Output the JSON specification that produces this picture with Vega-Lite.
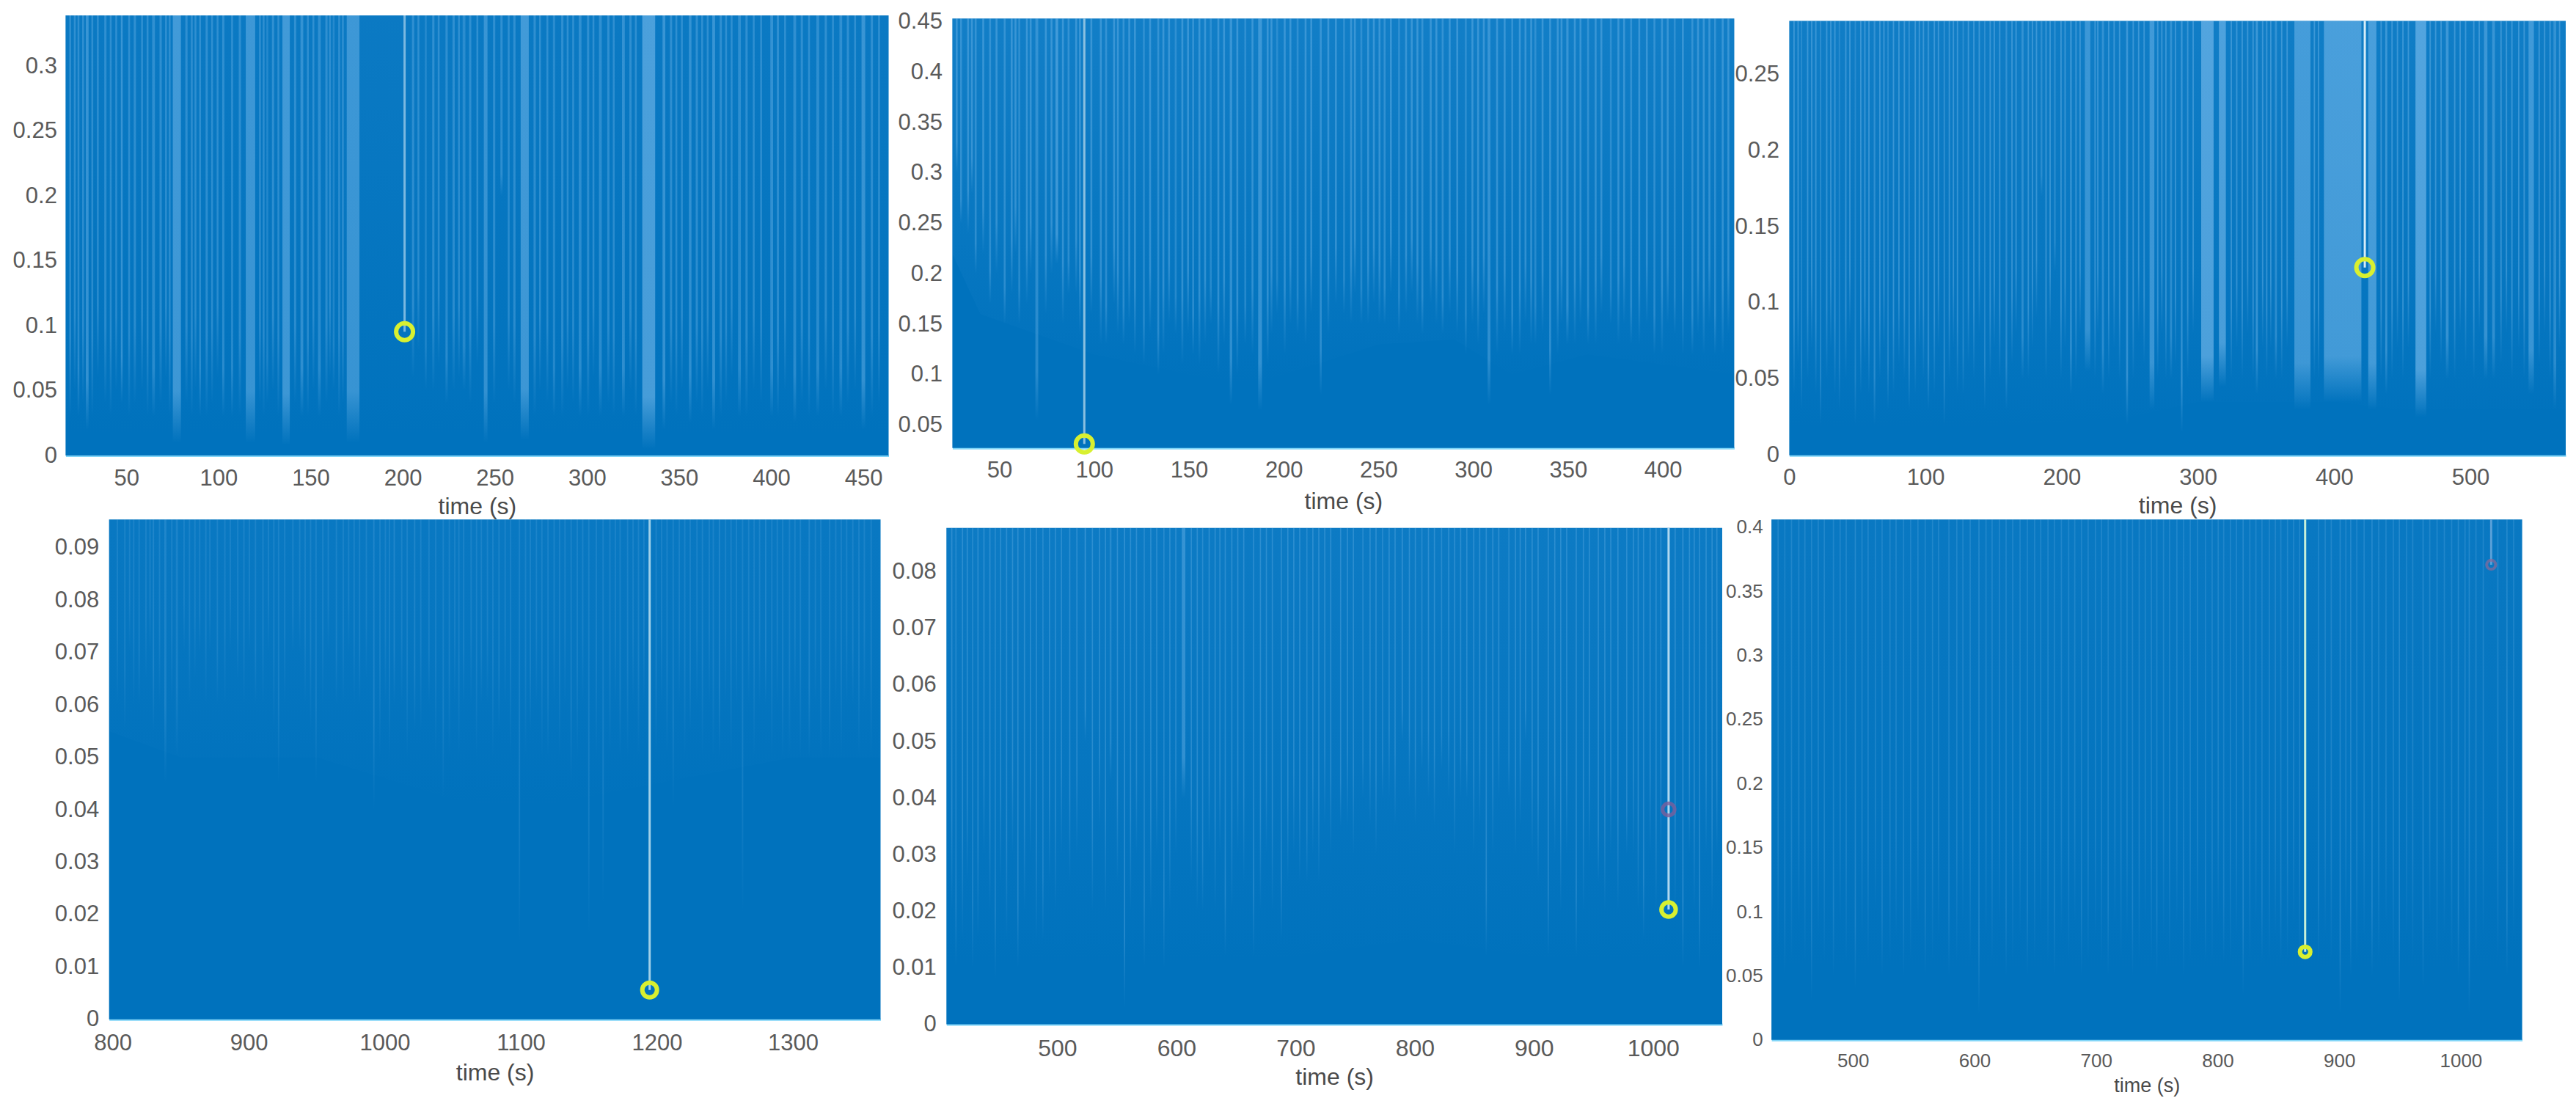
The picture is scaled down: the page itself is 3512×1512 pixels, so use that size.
{"$schema":"https://vega.github.io/schema/vega-lite/v6.json","width":3512,"height":1512,"padding":0,"autosize":{"type":"none"},"background":"white",
"config":{"view":{"stroke":null},"axis":{"grid":false,"ticks":false,"domain":false,"labelFont":"Liberation Sans","titleFont":"Liberation Sans","labelColor":"#5a5a5a","titleColor":"#4a4a4a","titleFontWeight":"normal","labelOverlap":false,"labelFlush":false,"format":"~r"}},
"datasets":{
"frames":[{"p":1,"t0":17,"t1":463.7,"amp":0},{"p":2,"t0":25.2,"t1":437.6,"amp":0.0273},{"p":3,"t0":0,"t1":570,"amp":0},{"p":4,"t0":797.4,"t1":1364.4,"amp":0},{"p":5,"t0":407,"t1":1058,"amp":0},{"p":6,"t0":433,"t1":1050.5,"amp":0}],
"haze":[
{"p":1,"t0":17,"amp":0.012},{"p":1,"t0":463.7,"amp":0.012},
{"p":2,"t0":25.2,"amp":0.22},{"p":2,"t0":40,"amp":0.16},{"p":2,"t0":70,"amp":0.14},{"p":2,"t0":100,"amp":0.12},{"p":2,"t0":150,"amp":0.1},{"p":2,"t0":180,"amp":0.09},{"p":2,"t0":200,"amp":0.1},{"p":2,"t0":250,"amp":0.13},{"p":2,"t0":290,"amp":0.135},{"p":2,"t0":320,"amp":0.1},{"p":2,"t0":360,"amp":0.12},{"p":2,"t0":400,"amp":0.11},{"p":2,"t0":437.6,"amp":0.1},
{"p":3,"t0":0,"amp":0.02},{"p":3,"t0":50,"amp":0.018},{"p":3,"t0":100,"amp":0.016},{"p":3,"t0":200,"amp":0.022},{"p":3,"t0":250,"amp":0.025},{"p":3,"t0":300,"amp":0.035},{"p":3,"t0":400,"amp":0.035},{"p":3,"t0":450,"amp":0.03},{"p":3,"t0":570,"amp":0.03},
{"p":4,"t0":797.4,"amp":0.055},{"p":4,"t0":850,"amp":0.05},{"p":4,"t0":950,"amp":0.05},{"p":4,"t0":1050,"amp":0.042},{"p":4,"t0":1100,"amp":0.04},{"p":4,"t0":1200,"amp":0.045},{"p":4,"t0":1300,"amp":0.05},{"p":4,"t0":1364.4,"amp":0.05},
{"p":5,"t0":407,"amp":0.01},{"p":5,"t0":550,"amp":0.01},{"p":5,"t0":700,"amp":0.012},{"p":5,"t0":800,"amp":0.015},{"p":5,"t0":900,"amp":0.012},{"p":5,"t0":1058,"amp":0.01},
{"p":6,"t0":433,"amp":0.06},{"p":6,"t0":1050.5,"amp":0.05}],
"markers":[{"p":1,"t0":201,"amp":0.0953},{"p":2,"t0":94.8,"amp":0.0313},{"p":3,"t0":422.5,"amp":0.1232},{"p":4,"t0":1194.7,"amp":0.0056},{"p":5,"t0":1013,"amp":0.0203},{"p":6,"t0":872,"amp":0.0687}],
"red":[{"p":5,"t0":1013,"amp":0.038},{"p":6,"t0":1025,"amp":0.3707}],
"s1":[{"t0":23.5,"t1":24.5,"amp":0.03,"s":0.4},{"t0":28,"t1":29.5,"amp":0.02,"s":0.5},{"t0":47,"t1":48,"amp":0.04,"s":0.5},{"t0":64,"t1":65.5,"amp":0.03,"s":0.4},{"t0":75.2,"t1":79.6,"amp":0.01,"s":0.6},{"t0":89.5,"t1":90.5,"amp":0.03,"s":0.4},{"t0":102,"t1":103.2,"amp":0.03,"s":0.4},{"t0":106.8,"t1":108,"amp":0.03,"s":0.35},{"t0":114.8,"t1":119.9,"amp":0.01,"s":0.55},{"t0":126,"t1":127,"amp":0.04,"s":0.3},{"t0":134.7,"t1":138.7,"amp":0.008,"s":0.6},{"t0":144.5,"t1":146,"amp":0.03,"s":0.45},{"t0":154,"t1":155.5,"amp":0.03,"s":0.4},{"t0":162,"t1":163,"amp":0.05,"s":0.3},{"t0":169.6,"t1":176.5,"amp":0.01,"s":0.55},{"t0":212,"t1":213,"amp":0.05,"s":0.3},{"t0":223.2,"t1":224.4,"amp":0.04,"s":0.4},{"t0":232.5,"t1":234,"amp":0.05,"s":0.35},{"t0":244,"t1":246,"amp":0.01,"s":0.5},{"t0":253,"t1":254.2,"amp":0.2,"s":0.4},{"t0":264,"t1":268.4,"amp":0.012,"s":0.6},{"t0":281.5,"t1":282.7,"amp":0.03,"s":0.35},{"t0":295.5,"t1":297,"amp":0.03,"s":0.4},{"t0":306.5,"t1":308,"amp":0.03,"s":0.4},{"t0":319,"t1":320.5,"amp":0.03,"s":0.45},{"t0":330,"t1":337,"amp":0.005,"s":0.7},{"t0":341,"t1":342.5,"amp":0.02,"s":0.5},{"t0":355.3,"t1":356.7,"amp":0.025,"s":0.45},{"t0":368,"t1":369.5,"amp":0.02,"s":0.5},{"t0":382,"t1":383.5,"amp":0.03,"s":0.4},{"t0":399.5,"t1":401,"amp":0.03,"s":0.45},{"t0":412,"t1":413.5,"amp":0.025,"s":0.4},{"t0":424.5,"t1":426,"amp":0.03,"s":0.4},{"t0":437,"t1":438.5,"amp":0.03,"s":0.4},{"t0":449,"t1":451,"amp":0.02,"s":0.5}],
"s2":[{"t0":29.3,"t1":30.3,"amp":0.25,"s":0.4},{"t0":37,"t1":38,"amp":0.2,"s":0.4},{"t0":44.6,"t1":45.6,"amp":0.17,"s":0.4},{"t0":52.3,"t1":53.3,"amp":0.15,"s":0.4},{"t0":60,"t1":61,"amp":0.15,"s":0.35},{"t0":69,"t1":70.5,"amp":0.055,"s":0.4},{"t0":79.6,"t1":81,"amp":0.21,"s":0.55},{"t0":86,"t1":87,"amp":0.18,"s":0.4},{"t0":105.8,"t1":106.8,"amp":0.13,"s":0.4},{"t0":115,"t1":116,"amp":0.13,"s":0.4},{"t0":125.7,"t1":126.7,"amp":0.11,"s":0.35},{"t0":133.3,"t1":134.3,"amp":0.1,"s":0.4},{"t0":142.5,"t1":143.5,"amp":0.14,"s":0.35},{"t0":151.7,"t1":152.7,"amp":0.12,"s":0.4},{"t0":161,"t1":162,"amp":0.15,"s":0.35},{"t0":171.5,"t1":172.8,"amp":0.07,"s":0.45},{"t0":179.2,"t1":180.2,"amp":0.13,"s":0.35},{"t0":186.5,"t1":188.5,"amp":0.065,"s":0.5},{"t0":196,"t1":197,"amp":0.16,"s":0.3},{"t0":206.8,"t1":207.8,"amp":0.14,"s":0.35},{"t0":219,"t1":220,"amp":0.08,"s":0.45},{"t0":231.3,"t1":232.3,"amp":0.16,"s":0.35},{"t0":240.4,"t1":241.4,"amp":0.15,"s":0.35},{"t0":252.7,"t1":253.7,"amp":0.15,"s":0.4},{"t0":260.3,"t1":261.3,"amp":0.14,"s":0.35},{"t0":272.6,"t1":273.6,"amp":0.14,"s":0.4},{"t0":283.3,"t1":284.3,"amp":0.14,"s":0.4},{"t0":295.5,"t1":296.5,"amp":0.12,"s":0.35},{"t0":307.5,"t1":309,"amp":0.07,"s":0.45},{"t0":320,"t1":321,"amp":0.12,"s":0.4},{"t0":332.2,"t1":333.2,"amp":0.13,"s":0.35},{"t0":340,"t1":341,"amp":0.08,"s":0.45},{"t0":349,"t1":350.2,"amp":0.13,"s":0.45},{"t0":360,"t1":361,"amp":0.13,"s":0.4},{"t0":372,"t1":373,"amp":0.15,"s":0.35},{"t0":382.7,"t1":383.7,"amp":0.13,"s":0.4},{"t0":395,"t1":396,"amp":0.12,"s":0.4},{"t0":405.7,"t1":406.7,"amp":0.14,"s":0.35},{"t0":415,"t1":416,"amp":0.12,"s":0.4},{"t0":427,"t1":428,"amp":0.12,"s":0.4}],
"s3":[{"t0":8.5,"t1":9.5,"amp":0.03,"s":0.3},{"t0":22.5,"t1":23.5,"amp":0.02,"s":0.35},{"t0":36.3,"t1":37.3,"amp":0.03,"s":0.3},{"t0":48,"t1":49,"amp":0.02,"s":0.3},{"t0":62,"t1":63.2,"amp":0.02,"s":0.4},{"t0":72,"t1":73,"amp":0.03,"s":0.35},{"t0":87.5,"t1":88.5,"amp":0.03,"s":0.4},{"t0":101.5,"t1":102.7,"amp":0.03,"s":0.4},{"t0":113.3,"t1":114.3,"amp":0.02,"s":0.4},{"t0":127.2,"t1":128.2,"amp":0.04,"s":0.35},{"t0":143,"t1":144,"amp":0.03,"s":0.35},{"t0":158.8,"t1":160,"amp":0.03,"s":0.4},{"t0":170.5,"t1":172,"amp":0.05,"s":0.4},{"t0":184.5,"t1":185.8,"amp":0.17,"s":0.35},{"t0":194.5,"t1":195.5,"amp":0.12,"s":0.4},{"t0":206,"t1":207.5,"amp":0.04,"s":0.4},{"t0":217,"t1":221,"amp":0.055,"s":0.5},{"t0":229.5,"t1":231,"amp":0.04,"s":0.4},{"t0":247.3,"t1":248.7,"amp":0.02,"s":0.5},{"t0":264.5,"t1":268,"amp":0.03,"s":0.55},{"t0":279.5,"t1":281,"amp":0.05,"s":0.4},{"t0":287.5,"t1":288.7,"amp":0.015,"s":0.5},{"t0":302.4,"t1":311.5,"amp":0.035,"s":0.75},{"t0":315.4,"t1":320.5,"amp":0.045,"s":0.7},{"t0":342.5,"t1":344,"amp":0.04,"s":0.5},{"t0":356.5,"t1":358,"amp":0.05,"s":0.4},{"t0":370.8,"t1":382.6,"amp":0.03,"s":0.6},{"t0":392.5,"t1":420,"amp":0.035,"s":0.65},{"t0":425,"t1":431,"amp":0.03,"s":0.65},{"t0":437.5,"t1":439,"amp":0.04,"s":0.5},{"t0":459.7,"t1":467.6,"amp":0.025,"s":0.75},{"t0":482,"t1":484,"amp":0.05,"s":0.5},{"t0":510,"t1":512.5,"amp":0.05,"s":0.5},{"t0":516,"t1":518,"amp":0.05,"s":0.45},{"t0":542.7,"t1":546.6,"amp":0.04,"s":0.55},{"t0":561,"t1":563,"amp":0.03,"s":0.4}],
"s4":[{"t0":808.5,"t1":809.5,"amp":0.055,"s":0.2},{"t0":819,"t1":820,"amp":0.06,"s":0.2},{"t0":829.5,"t1":830.5,"amp":0.055,"s":0.25},{"t0":838,"t1":839.5,"amp":0.045,"s":0.25},{"t0":846.5,"t1":848,"amp":0.05,"s":0.2},{"t0":863.5,"t1":864.5,"amp":0.07,"s":0.2},{"t0":876.5,"t1":877.5,"amp":0.06,"s":0.2},{"t0":891.5,"t1":892.5,"amp":0.065,"s":0.2},{"t0":904.5,"t1":905.5,"amp":0.06,"s":0.2},{"t0":921.5,"t1":922.5,"amp":0.045,"s":0.2},{"t0":932,"t1":933,"amp":0.07,"s":0.2},{"t0":949,"t1":950,"amp":0.045,"s":0.2},{"t0":964,"t1":965,"amp":0.06,"s":0.2},{"t0":981,"t1":982,"amp":0.06,"s":0.2},{"t0":991.5,"t1":992.5,"amp":0.04,"s":0.25},{"t0":1006.5,"t1":1007.5,"amp":0.06,"s":0.25},{"t0":1021.5,"t1":1022.5,"amp":0.055,"s":0.25},{"t0":1032,"t1":1033,"amp":0.06,"s":0.2},{"t0":1042.5,"t1":1043.5,"amp":0.042,"s":0.2},{"t0":1057.5,"t1":1058.5,"amp":0.06,"s":0.2},{"t0":1070.5,"t1":1071.5,"amp":0.06,"s":0.2},{"t0":1083.5,"t1":1084.5,"amp":0.055,"s":0.2},{"t0":1098.5,"t1":1099.5,"amp":0.014,"s":0.2},{"t0":1106.5,"t1":1107.5,"amp":0.055,"s":0.2},{"t0":1119.5,"t1":1120.5,"amp":0.05,"s":0.2},{"t0":1136.5,"t1":1137.5,"amp":0.045,"s":0.2},{"t0":1149.5,"t1":1150.5,"amp":0.016,"s":0.2},{"t0":1160,"t1":1161,"amp":0.022,"s":0.2},{"t0":1172.5,"t1":1173.5,"amp":0.05,"s":0.2},{"t0":1211.5,"t1":1212.5,"amp":0.04,"s":0.2},{"t0":1224,"t1":1225,"amp":0.055,"s":0.2},{"t0":1245.5,"t1":1246.5,"amp":0.05,"s":0.25},{"t0":1262.5,"t1":1263.5,"amp":0.02,"s":0.2},{"t0":1279.5,"t1":1280.5,"amp":0.06,"s":0.25},{"t0":1292,"t1":1293,"amp":0.05,"s":0.2},{"t0":1311.5,"t1":1312.5,"amp":0.05,"s":0.25},{"t0":1326.5,"t1":1327.5,"amp":0.05,"s":0.2},{"t0":1343.5,"t1":1344.5,"amp":0.06,"s":0.2}],
"s5":[{"t0":414.5,"t1":415.5,"amp":0.01,"s":0.3},{"t0":428.5,"t1":429.5,"amp":0.01,"s":0.3},{"t0":447.5,"t1":448.5,"amp":0.008,"s":0.3},{"t0":466.5,"t1":467.5,"amp":0.01,"s":0.35},{"t0":487.5,"t1":488.5,"amp":0.015,"s":0.3},{"t0":523,"t1":524,"amp":0.05,"s":0.45},{"t0":544,"t1":545.5,"amp":0.043,"s":0.3},{"t0":556,"t1":557,"amp":0.003,"s":0.4},{"t0":572.5,"t1":573.5,"amp":0.01,"s":0.3},{"t0":589,"t1":590,"amp":0.01,"s":0.3},{"t0":604.5,"t1":607.5,"amp":0.04,"s":0.45},{"t0":621.5,"t1":622.5,"amp":0.02,"s":0.3},{"t0":640.5,"t1":641.5,"amp":0.012,"s":0.35},{"t0":664.3,"t1":665.3,"amp":0.012,"s":0.35},{"t0":687.5,"t1":688.5,"amp":0.015,"s":0.35},{"t0":709,"t1":710,"amp":0.025,"s":0.3},{"t0":737.3,"t1":738.3,"amp":0.035,"s":0.35},{"t0":756,"t1":757,"amp":0.04,"s":0.3},{"t0":772.5,"t1":773.5,"amp":0.04,"s":0.3},{"t0":789,"t1":790,"amp":0.05,"s":0.4},{"t0":805.5,"t1":806.5,"amp":0.045,"s":0.3},{"t0":822,"t1":823,"amp":0.045,"s":0.3},{"t0":843.2,"t1":844.2,"amp":0.04,"s":0.35},{"t0":859.5,"t1":860.5,"amp":0.012,"s":0.35},{"t0":878.5,"t1":879.5,"amp":0.04,"s":0.3},{"t0":892.5,"t1":893.5,"amp":0.05,"s":0.4},{"t0":911.5,"t1":912.5,"amp":0.012,"s":0.35},{"t0":935,"t1":936,"amp":0.012,"s":0.35},{"t0":953.5,"t1":954.5,"amp":0.025,"s":0.35},{"t0":977.4,"t1":978.4,"amp":0.03,"s":0.35},{"t0":991.5,"t1":992.5,"amp":0.015,"s":0.35},{"t0":1024.5,"t1":1025.5,"amp":0.01,"s":0.4},{"t0":1038.5,"t1":1039.5,"amp":0.01,"s":0.35}],
"s6":[{"t0":443.5,"t1":444.5,"amp":0.05,"s":0.2},{"t0":465.5,"t1":466.5,"amp":0.03,"s":0.25},{"t0":483.5,"t1":484.5,"amp":0.05,"s":0.25},{"t0":501.5,"t1":502.5,"amp":0.04,"s":0.3},{"t0":523.5,"t1":524.5,"amp":0.05,"s":0.25},{"t0":541.2,"t1":542.2,"amp":0.05,"s":0.25},{"t0":559,"t1":560,"amp":0.05,"s":0.25},{"t0":578.5,"t1":579.5,"amp":0.05,"s":0.25},{"t0":603.2,"t1":604.2,"amp":0.02,"s":0.3},{"t0":625.5,"t1":626.5,"amp":0.05,"s":0.25},{"t0":643,"t1":644,"amp":0.05,"s":0.25},{"t0":665.3,"t1":666.3,"amp":0.05,"s":0.25},{"t0":687.5,"t1":688.5,"amp":0.05,"s":0.25},{"t0":709.5,"t1":710.5,"amp":0.05,"s":0.25},{"t0":729.5,"t1":730.5,"amp":0.05,"s":0.25},{"t0":749.5,"t1":750.5,"amp":0.05,"s":0.25},{"t0":771.5,"t1":772.5,"amp":0.05,"s":0.25},{"t0":789.5,"t1":790.5,"amp":0.06,"s":0.25},{"t0":804.5,"t1":805.5,"amp":0.06,"s":0.25},{"t0":820.5,"t1":821.5,"amp":0.035,"s":0.3},{"t0":836,"t1":837,"amp":0.06,"s":0.25},{"t0":851.5,"t1":852.5,"amp":0.06,"s":0.25},{"t0":882.5,"t1":883.5,"amp":0.06,"s":0.25},{"t0":900.3,"t1":901.3,"amp":0.02,"s":0.3},{"t0":909,"t1":910,"amp":0.05,"s":0.3},{"t0":926.5,"t1":927.5,"amp":0.05,"s":0.3},{"t0":949,"t1":950,"amp":0.03,"s":0.3},{"t0":968.5,"t1":969.5,"amp":0.04,"s":0.3},{"t0":997.5,"t1":998.5,"amp":0.05,"s":0.3},{"t0":1006.5,"t1":1007.5,"amp":0.02,"s":0.3},{"t0":1037.5,"t1":1038.5,"amp":0.05,"s":0.3}],
"f1":[{"t0":19,"t1":20,"amp":0.03},{"t0":21.5,"t1":22.5,"amp":0.05},{"t0":26,"t1":27,"amp":0.04},{"t0":31,"t1":32,"amp":0.03},{"t0":34,"t1":35,"amp":0.06},{"t0":38,"t1":39.2,"amp":0.04},{"t0":41,"t1":42,"amp":0.03},{"t0":44,"t1":45,"amp":0.05},{"t0":51,"t1":52,"amp":0.03},{"t0":54,"t1":55.2,"amp":0.04},{"t0":58,"t1":59,"amp":0.05},{"t0":61,"t1":62,"amp":0.03},{"t0":68,"t1":69.2,"amp":0.04},{"t0":71,"t1":72,"amp":0.06},{"t0":73,"t1":74,"amp":0.03},{"t0":82,"t1":83.2,"amp":0.04},{"t0":85,"t1":86,"amp":0.03},{"t0":87,"t1":88,"amp":0.05},{"t0":93,"t1":94.2,"amp":0.03},{"t0":96,"t1":97,"amp":0.04},{"t0":99,"t1":100,"amp":0.06},{"t0":111,"t1":112.2,"amp":0.03},{"t0":122,"t1":123,"amp":0.04},{"t0":124,"t1":125,"amp":0.03},{"t0":129,"t1":130.2,"amp":0.05},{"t0":132,"t1":133,"amp":0.03},{"t0":141,"t1":142.2,"amp":0.04},{"t0":148,"t1":149,"amp":0.03},{"t0":151,"t1":152,"amp":0.05},{"t0":158,"t1":159.2,"amp":0.04},{"t0":160,"t1":161,"amp":0.06},{"t0":165,"t1":166,"amp":0.03},{"t0":167,"t1":168,"amp":0.04},{"t0":205,"t1":206.2,"amp":0.06},{"t0":208,"t1":209,"amp":0.08},{"t0":216,"t1":217.2,"amp":0.05},{"t0":219,"t1":220,"amp":0.07},{"t0":227,"t1":228.2,"amp":0.05},{"t0":230,"t1":231,"amp":0.06},{"t0":236,"t1":237.2,"amp":0.04},{"t0":240,"t1":241,"amp":0.07},{"t0":249,"t1":250.2,"amp":0.04},{"t0":257,"t1":258,"amp":0.05},{"t0":260,"t1":261.2,"amp":0.04},{"t0":271,"t1":272.2,"amp":0.03},{"t0":274,"t1":275,"amp":0.05},{"t0":278,"t1":279,"amp":0.04},{"t0":286,"t1":287.2,"amp":0.03},{"t0":289,"t1":290,"amp":0.05},{"t0":292,"t1":293,"amp":0.04},{"t0":300,"t1":301.2,"amp":0.03},{"t0":303,"t1":304,"amp":0.06},{"t0":311,"t1":312.2,"amp":0.04},{"t0":314,"t1":315,"amp":0.03},{"t0":323,"t1":324.2,"amp":0.05},{"t0":326,"t1":327,"amp":0.03},{"t0":345,"t1":346.2,"amp":0.04},{"t0":348,"t1":349,"amp":0.03},{"t0":351,"t1":352,"amp":0.05},{"t0":359,"t1":360.2,"amp":0.04},{"t0":362,"t1":363,"amp":0.03},{"t0":365,"t1":366,"amp":0.05},{"t0":372,"t1":373.2,"amp":0.03},{"t0":375,"t1":376,"amp":0.04},{"t0":378,"t1":379,"amp":0.06},{"t0":386,"t1":387.2,"amp":0.03},{"t0":390,"t1":391,"amp":0.05},{"t0":394,"t1":395,"amp":0.04},{"t0":403,"t1":404.2,"amp":0.03},{"t0":407,"t1":408,"amp":0.05},{"t0":416,"t1":417.2,"amp":0.04},{"t0":420,"t1":421,"amp":0.03},{"t0":429,"t1":430.2,"amp":0.05},{"t0":433,"t1":434,"amp":0.03},{"t0":441,"t1":442.2,"amp":0.04},{"t0":445,"t1":446,"amp":0.05},{"t0":454,"t1":455.2,"amp":0.03},{"t0":458,"t1":459,"amp":0.04}],
"f2":[{"t0":27,"t1":28,"amp":0.3},{"t0":33,"t1":34,"amp":0.24},{"t0":35,"t1":36,"amp":0.28},{"t0":41,"t1":42,"amp":0.22},{"t0":48,"t1":49,"amp":0.2},{"t0":56,"t1":57,"amp":0.18},{"t0":58,"t1":59,"amp":0.22},{"t0":64,"t1":65,"amp":0.17},{"t0":66,"t1":67,"amp":0.2},{"t0":74,"t1":75,"amp":0.16},{"t0":77,"t1":78,"amp":0.2},{"t0":83,"t1":84,"amp":0.15},{"t0":90,"t1":91,"amp":0.18},{"t0":92,"t1":93,"amp":0.14},{"t0":98,"t1":99,"amp":0.16},{"t0":103,"t1":104,"amp":0.13},{"t0":110,"t1":111,"amp":0.17},{"t0":112,"t1":113,"amp":0.14},{"t0":118,"t1":119,"amp":0.15},{"t0":121,"t1":122,"amp":0.12},{"t0":129,"t1":130,"amp":0.14},{"t0":136,"t1":137,"amp":0.12},{"t0":139,"t1":140,"amp":0.15},{"t0":146,"t1":147,"amp":0.11},{"t0":149,"t1":150,"amp":0.14},{"t0":155,"t1":156,"amp":0.11},{"t0":158,"t1":159,"amp":0.13},{"t0":165,"t1":166,"amp":0.1},{"t0":168,"t1":169,"amp":0.13},{"t0":175,"t1":176,"amp":0.1},{"t0":183,"t1":184,"amp":0.12},{"t0":191,"t1":192,"amp":0.11},{"t0":193,"t1":194,"amp":0.14},{"t0":200,"t1":201,"amp":0.12},{"t0":203,"t1":204,"amp":0.15},{"t0":211,"t1":212,"amp":0.13},{"t0":214,"t1":215,"amp":0.16},{"t0":223,"t1":224,"amp":0.14},{"t0":227,"t1":228,"amp":0.17},{"t0":235,"t1":236,"amp":0.15},{"t0":237,"t1":238,"amp":0.18},{"t0":244,"t1":245,"amp":0.15},{"t0":247,"t1":248,"amp":0.17},{"t0":250,"t1":251,"amp":0.15},{"t0":256,"t1":257,"amp":0.18},{"t0":264,"t1":265,"amp":0.16},{"t0":267,"t1":268,"amp":0.18},{"t0":270,"t1":271,"amp":0.15},{"t0":277,"t1":278,"amp":0.17},{"t0":280,"t1":281,"amp":0.15},{"t0":287,"t1":288,"amp":0.16},{"t0":291,"t1":292,"amp":0.14},{"t0":299,"t1":300,"amp":0.15},{"t0":302,"t1":303,"amp":0.13},{"t0":305,"t1":306,"amp":0.16},{"t0":312,"t1":313,"amp":0.12},{"t0":316,"t1":317,"amp":0.14},{"t0":324,"t1":325,"amp":0.12},{"t0":327,"t1":328,"amp":0.15},{"t0":330,"t1":331,"amp":0.13},{"t0":336,"t1":337,"amp":0.14},{"t0":344,"t1":345,"amp":0.12},{"t0":346,"t1":347,"amp":0.15},{"t0":353,"t1":354,"amp":0.13},{"t0":356,"t1":357,"amp":0.15},{"t0":364,"t1":365,"amp":0.13},{"t0":367,"t1":368,"amp":0.16},{"t0":376,"t1":377,"amp":0.13},{"t0":379,"t1":380,"amp":0.15},{"t0":387,"t1":388,"amp":0.13},{"t0":391,"t1":392,"amp":0.15},{"t0":399,"t1":400,"amp":0.12},{"t0":402,"t1":403,"amp":0.15},{"t0":410,"t1":411,"amp":0.12},{"t0":418,"t1":419,"amp":0.14},{"t0":421,"t1":422,"amp":0.12},{"t0":424,"t1":425,"amp":0.15},{"t0":431,"t1":432,"amp":0.12},{"t0":434,"t1":435,"amp":0.14}],
"f3":[{"t0":3,"t1":4,"amp":0.04},{"t0":6,"t1":7,"amp":0.06},{"t0":13,"t1":14,"amp":0.05},{"t0":16,"t1":17,"amp":0.07},{"t0":19,"t1":20,"amp":0.04},{"t0":27,"t1":28,"amp":0.05},{"t0":30,"t1":31,"amp":0.07},{"t0":33,"t1":34,"amp":0.04},{"t0":41,"t1":42,"amp":0.05},{"t0":44,"t1":45,"amp":0.08},{"t0":52,"t1":53,"amp":0.04},{"t0":55,"t1":56,"amp":0.06},{"t0":58,"t1":59,"amp":0.04},{"t0":66,"t1":67,"amp":0.05},{"t0":69,"t1":70,"amp":0.07},{"t0":76,"t1":77,"amp":0.04},{"t0":80,"t1":81,"amp":0.06},{"t0":84,"t1":85,"amp":0.05},{"t0":92,"t1":93,"amp":0.04},{"t0":95,"t1":96,"amp":0.07},{"t0":98,"t1":99,"amp":0.05},{"t0":106,"t1":107,"amp":0.04},{"t0":109,"t1":110,"amp":0.07},{"t0":117,"t1":118,"amp":0.05},{"t0":120,"t1":121,"amp":0.07},{"t0":123,"t1":124,"amp":0.04},{"t0":131,"t1":132,"amp":0.06},{"t0":135,"t1":136,"amp":0.05},{"t0":139,"t1":140,"amp":0.08},{"t0":147,"t1":148,"amp":0.05},{"t0":150,"t1":151,"amp":0.07},{"t0":154,"t1":155,"amp":0.05},{"t0":163,"t1":164,"amp":0.06},{"t0":166,"t1":167,"amp":0.08},{"t0":175,"t1":176,"amp":0.05},{"t0":178,"t1":179,"amp":0.07},{"t0":181,"t1":182,"amp":0.09},{"t0":188,"t1":189,"amp":0.05},{"t0":191,"t1":192,"amp":0.08},{"t0":199,"t1":200,"amp":0.05},{"t0":202,"t1":203,"amp":0.07},{"t0":210,"t1":211,"amp":0.05},{"t0":213,"t1":214,"amp":0.08},{"t0":224,"t1":225,"amp":0.05},{"t0":226,"t1":227,"amp":0.08},{"t0":234,"t1":235,"amp":0.05},{"t0":238,"t1":239,"amp":0.07},{"t0":242,"t1":243,"amp":0.05},{"t0":252,"t1":253,"amp":0.05},{"t0":256,"t1":257,"amp":0.08},{"t0":260,"t1":261,"amp":0.06},{"t0":270,"t1":271,"amp":0.05},{"t0":273,"t1":274,"amp":0.08},{"t0":276,"t1":277,"amp":0.05},{"t0":283,"t1":284,"amp":0.06},{"t0":292,"t1":293,"amp":0.05},{"t0":296,"t1":297,"amp":0.08},{"t0":324,"t1":325,"amp":0.05},{"t0":328,"t1":329,"amp":0.07},{"t0":332,"t1":333,"amp":0.05},{"t0":336,"t1":337,"amp":0.08},{"t0":340,"t1":341,"amp":0.05},{"t0":347,"t1":348,"amp":0.07},{"t0":350,"t1":351,"amp":0.05},{"t0":353,"t1":354,"amp":0.07},{"t0":361,"t1":362,"amp":0.05},{"t0":365,"t1":366,"amp":0.07},{"t0":385,"t1":386,"amp":0.05},{"t0":388,"t1":389,"amp":0.05},{"t0":434,"t1":435,"amp":0.05},{"t0":442,"t1":443,"amp":0.05},{"t0":446,"t1":447,"amp":0.07},{"t0":450,"t1":451,"amp":0.05},{"t0":454,"t1":455,"amp":0.07},{"t0":470,"t1":471,"amp":0.05},{"t0":474,"t1":475,"amp":0.08},{"t0":478,"t1":479,"amp":0.06},{"t0":488,"t1":489,"amp":0.05},{"t0":492,"t1":493,"amp":0.08},{"t0":496,"t1":497,"amp":0.06},{"t0":502,"t1":503,"amp":0.05},{"t0":506,"t1":507,"amp":0.08},{"t0":522,"t1":523,"amp":0.06},{"t0":526,"t1":527,"amp":0.08},{"t0":530,"t1":531,"amp":0.05},{"t0":535,"t1":536,"amp":0.07},{"t0":539,"t1":540,"amp":0.05},{"t0":550,"t1":551,"amp":0.06},{"t0":554,"t1":555,"amp":0.08},{"t0":558,"t1":559,"amp":0.05},{"t0":565,"t1":566,"amp":0.07}],
"f4":[{"t0":803,"t1":804,"amp":0.06},{"t0":812,"t1":813,"amp":0.07},{"t0":815,"t1":816,"amp":0.06},{"t0":824,"t1":825,"amp":0.065},{"t0":827,"t1":828,"amp":0.07},{"t0":834,"t1":835,"amp":0.06},{"t0":843,"t1":844,"amp":0.06},{"t0":852,"t1":853,"amp":0.07},{"t0":856,"t1":857,"amp":0.06},{"t0":860,"t1":861,"amp":0.065},{"t0":868,"t1":869,"amp":0.06},{"t0":871,"t1":872,"amp":0.07},{"t0":882,"t1":883,"amp":0.06},{"t0":886,"t1":887,"amp":0.07},{"t0":896,"t1":897,"amp":0.06},{"t0":900,"t1":901,"amp":0.07},{"t0":910,"t1":911,"amp":0.06},{"t0":914,"t1":915,"amp":0.07},{"t0":918,"t1":919,"amp":0.055},{"t0":926,"t1":927,"amp":0.06},{"t0":937,"t1":938,"amp":0.07},{"t0":941,"t1":942,"amp":0.06},{"t0":945,"t1":946,"amp":0.055},{"t0":954,"t1":955,"amp":0.06},{"t0":958,"t1":959,"amp":0.07},{"t0":969,"t1":970,"amp":0.06},{"t0":973,"t1":974,"amp":0.07},{"t0":977,"t1":978,"amp":0.06},{"t0":986,"t1":987,"amp":0.065},{"t0":996,"t1":997,"amp":0.05},{"t0":1000,"t1":1001,"amp":0.06},{"t0":1003,"t1":1004,"amp":0.05},{"t0":1012,"t1":1013,"amp":0.06},{"t0":1016,"t1":1017,"amp":0.05},{"t0":1026,"t1":1027,"amp":0.055},{"t0":1037,"t1":1038,"amp":0.05},{"t0":1047,"t1":1048,"amp":0.05},{"t0":1051,"t1":1052,"amp":0.06},{"t0":1054,"t1":1055,"amp":0.05},{"t0":1063,"t1":1064,"amp":0.06},{"t0":1067,"t1":1068,"amp":0.05},{"t0":1075,"t1":1076,"amp":0.06},{"t0":1079,"t1":1080,"amp":0.05},{"t0":1088,"t1":1089,"amp":0.06},{"t0":1092,"t1":1093,"amp":0.05},{"t0":1103,"t1":1104,"amp":0.05},{"t0":1111,"t1":1112,"amp":0.06},{"t0":1115,"t1":1116,"amp":0.05},{"t0":1124,"t1":1125,"amp":0.06},{"t0":1128,"t1":1129,"amp":0.05},{"t0":1132,"t1":1133,"amp":0.06},{"t0":1141,"t1":1142,"amp":0.05},{"t0":1145,"t1":1146,"amp":0.06},{"t0":1155,"t1":1156,"amp":0.05},{"t0":1165,"t1":1166,"amp":0.05},{"t0":1169,"t1":1170,"amp":0.06},{"t0":1178,"t1":1179,"amp":0.05},{"t0":1182,"t1":1183,"amp":0.06},{"t0":1186,"t1":1187,"amp":0.05},{"t0":1190,"t1":1191,"amp":0.06},{"t0":1199,"t1":1200,"amp":0.05},{"t0":1203,"t1":1204,"amp":0.06},{"t0":1207,"t1":1208,"amp":0.05},{"t0":1216,"t1":1217,"amp":0.06},{"t0":1220,"t1":1221,"amp":0.05},{"t0":1229,"t1":1230,"amp":0.06},{"t0":1233,"t1":1234,"amp":0.05},{"t0":1238,"t1":1239,"amp":0.06},{"t0":1241,"t1":1242,"amp":0.05},{"t0":1250,"t1":1251,"amp":0.06},{"t0":1254,"t1":1255,"amp":0.05},{"t0":1258,"t1":1259,"amp":0.06},{"t0":1267,"t1":1268,"amp":0.06},{"t0":1271,"t1":1272,"amp":0.05},{"t0":1275,"t1":1276,"amp":0.06},{"t0":1284,"t1":1285,"amp":0.05},{"t0":1288,"t1":1289,"amp":0.06},{"t0":1297,"t1":1298,"amp":0.05},{"t0":1301,"t1":1302,"amp":0.06},{"t0":1305,"t1":1306,"amp":0.05},{"t0":1316,"t1":1317,"amp":0.06},{"t0":1320,"t1":1321,"amp":0.05},{"t0":1331,"t1":1332,"amp":0.06},{"t0":1335,"t1":1336,"amp":0.05},{"t0":1339,"t1":1340,"amp":0.06},{"t0":1348,"t1":1349,"amp":0.05},{"t0":1352,"t1":1353,"amp":0.06},{"t0":1357,"t1":1358,"amp":0.05}],
"f5":[{"t0":411,"t1":412,"amp":0.02},{"t0":420,"t1":421,"amp":0.015},{"t0":424,"t1":425,"amp":0.025},{"t0":433,"t1":434,"amp":0.015},{"t0":438,"t1":439,"amp":0.03},{"t0":443,"t1":444,"amp":0.02},{"t0":452,"t1":453,"amp":0.025},{"t0":457,"t1":458,"amp":0.015},{"t0":462,"t1":463,"amp":0.03},{"t0":472,"t1":473,"amp":0.02},{"t0":477,"t1":478,"amp":0.03},{"t0":482,"t1":483,"amp":0.015},{"t0":493,"t1":494,"amp":0.025},{"t0":498,"t1":499,"amp":0.02},{"t0":503,"t1":504,"amp":0.03},{"t0":510,"t1":511,"amp":0.025},{"t0":516,"t1":517,"amp":0.03},{"t0":529,"t1":530,"amp":0.02},{"t0":535,"t1":536,"amp":0.035},{"t0":540,"t1":541,"amp":0.02},{"t0":550,"t1":551,"amp":0.025},{"t0":561,"t1":562,"amp":0.02},{"t0":566,"t1":567,"amp":0.03},{"t0":578,"t1":579,"amp":0.02},{"t0":583,"t1":584,"amp":0.03},{"t0":594,"t1":595,"amp":0.02},{"t0":599,"t1":600,"amp":0.03},{"t0":612,"t1":613,"amp":0.025},{"t0":617,"t1":618,"amp":0.02},{"t0":627,"t1":628,"amp":0.03},{"t0":632,"t1":633,"amp":0.02},{"t0":636,"t1":637,"amp":0.03},{"t0":646,"t1":647,"amp":0.02},{"t0":651,"t1":652,"amp":0.03},{"t0":656,"t1":657,"amp":0.025},{"t0":670,"t1":671,"amp":0.02},{"t0":675,"t1":676,"amp":0.03},{"t0":680,"t1":681,"amp":0.02},{"t0":693,"t1":694,"amp":0.025},{"t0":698,"t1":699,"amp":0.03},{"t0":703,"t1":704,"amp":0.025},{"t0":714,"t1":715,"amp":0.03},{"t0":719,"t1":720,"amp":0.025},{"t0":724,"t1":725,"amp":0.035},{"t0":729,"t1":730,"amp":0.03},{"t0":743,"t1":744,"amp":0.035},{"t0":748,"t1":749,"amp":0.03},{"t0":762,"t1":763,"amp":0.035},{"t0":767,"t1":768,"amp":0.03},{"t0":778,"t1":779,"amp":0.04},{"t0":783,"t1":784,"amp":0.035},{"t0":795,"t1":796,"amp":0.04},{"t0":800,"t1":801,"amp":0.035},{"t0":811,"t1":812,"amp":0.04},{"t0":816,"t1":817,"amp":0.035},{"t0":828,"t1":829,"amp":0.04},{"t0":833,"t1":834,"amp":0.03},{"t0":838,"t1":839,"amp":0.04},{"t0":849,"t1":850,"amp":0.03},{"t0":854,"t1":855,"amp":0.035},{"t0":865,"t1":866,"amp":0.03},{"t0":870,"t1":871,"amp":0.04},{"t0":884,"t1":885,"amp":0.03},{"t0":888,"t1":889,"amp":0.035},{"t0":898,"t1":899,"amp":0.03},{"t0":903,"t1":904,"amp":0.025},{"t0":917,"t1":918,"amp":0.03},{"t0":922,"t1":923,"amp":0.02},{"t0":927,"t1":928,"amp":0.03},{"t0":941,"t1":942,"amp":0.02},{"t0":946,"t1":947,"amp":0.03},{"t0":959,"t1":960,"amp":0.02},{"t0":964,"t1":965,"amp":0.03},{"t0":970,"t1":971,"amp":0.02},{"t0":983,"t1":984,"amp":0.03},{"t0":987,"t1":988,"amp":0.02},{"t0":997,"t1":998,"amp":0.03},{"t0":1002,"t1":1003,"amp":0.02},{"t0":1006,"t1":1007,"amp":0.03},{"t0":1018,"t1":1019,"amp":0.02},{"t0":1030,"t1":1031,"amp":0.03},{"t0":1034,"t1":1035,"amp":0.02},{"t0":1044,"t1":1045,"amp":0.03},{"t0":1049,"t1":1050,"amp":0.02},{"t0":1053,"t1":1054,"amp":0.03}],
"f6":[{"t0":438,"t1":439,"amp":0.07},{"t0":449,"t1":450,"amp":0.06},{"t0":455,"t1":456,"amp":0.09},{"t0":460,"t1":461,"amp":0.06},{"t0":471,"t1":472,"amp":0.08},{"t0":476,"t1":477,"amp":0.06},{"t0":489,"t1":490,"amp":0.09},{"t0":494,"t1":495,"amp":0.06},{"t0":507,"t1":508,"amp":0.08},{"t0":512,"t1":513,"amp":0.06},{"t0":518,"t1":519,"amp":0.1},{"t0":530,"t1":531,"amp":0.06},{"t0":535,"t1":536,"amp":0.08},{"t0":547,"t1":548,"amp":0.06},{"t0":553,"t1":554,"amp":0.09},{"t0":565,"t1":566,"amp":0.06},{"t0":570,"t1":571,"amp":0.08},{"t0":585,"t1":586,"amp":0.06},{"t0":590,"t1":591,"amp":0.09},{"t0":596,"t1":597,"amp":0.06},{"t0":609,"t1":610,"amp":0.08},{"t0":614,"t1":615,"amp":0.06},{"t0":620,"t1":621,"amp":0.09},{"t0":631,"t1":632,"amp":0.06},{"t0":637,"t1":638,"amp":0.08},{"t0":649,"t1":650,"amp":0.06},{"t0":654,"t1":655,"amp":0.09},{"t0":660,"t1":661,"amp":0.06},{"t0":671,"t1":672,"amp":0.08},{"t0":677,"t1":678,"amp":0.06},{"t0":682,"t1":683,"amp":0.09},{"t0":693,"t1":694,"amp":0.06},{"t0":699,"t1":700,"amp":0.08},{"t0":704,"t1":705,"amp":0.06},{"t0":715,"t1":716,"amp":0.09},{"t0":720,"t1":721,"amp":0.06},{"t0":725,"t1":726,"amp":0.08},{"t0":735,"t1":736,"amp":0.06},{"t0":740,"t1":741,"amp":0.09},{"t0":745,"t1":746,"amp":0.06},{"t0":755,"t1":756,"amp":0.08},{"t0":760,"t1":761,"amp":0.06},{"t0":766,"t1":767,"amp":0.09},{"t0":777,"t1":778,"amp":0.06},{"t0":783,"t1":784,"amp":0.08},{"t0":795,"t1":796,"amp":0.06},{"t0":800,"t1":801,"amp":0.09},{"t0":810,"t1":811,"amp":0.06},{"t0":815,"t1":816,"amp":0.08},{"t0":826,"t1":827,"amp":0.06},{"t0":831,"t1":832,"amp":0.09},{"t0":842,"t1":843,"amp":0.06},{"t0":847,"t1":848,"amp":0.08},{"t0":857,"t1":858,"amp":0.06},{"t0":862,"t1":863,"amp":0.09},{"t0":867,"t1":868,"amp":0.06},{"t0":888,"t1":889,"amp":0.08},{"t0":893,"t1":894,"amp":0.06},{"t0":905,"t1":906,"amp":0.09},{"t0":914,"t1":915,"amp":0.06},{"t0":920,"t1":921,"amp":0.08},{"t0":932,"t1":933,"amp":0.06},{"t0":938,"t1":939,"amp":0.09},{"t0":944,"t1":945,"amp":0.06},{"t0":955,"t1":956,"amp":0.08},{"t0":960,"t1":961,"amp":0.06},{"t0":974,"t1":975,"amp":0.09},{"t0":980,"t1":981,"amp":0.06},{"t0":986,"t1":987,"amp":0.08},{"t0":992,"t1":993,"amp":0.06},{"t0":1003,"t1":1004,"amp":0.09},{"t0":1012,"t1":1013,"amp":0.06},{"t0":1018,"t1":1019,"amp":0.08},{"t0":1030,"t1":1031,"amp":0.06},{"t0":1043,"t1":1044,"amp":0.08}]
},
"resolve":{"scale":{"x":"independent","y":"independent","opacity":"independent"}},
"layer":[
{"encoding":{"x":{"field":"t0","type":"quantitative","scale":{"domain":[17,463.7],"range":[89.4,1211.5],"nice":false,"zero":false},"axis":{"orient":"bottom","offset":-891,"title":"time (s)","values":[50,100,150,200,250,300,350,400,450],"labelFontSize":31,"titleFontSize":32,"labelPadding":16,"titlePadding":8,"domain":true,"domainColor":"#7fd4f7","domainWidth":3}},"y":{"field":"amp","type":"quantitative","scale":{"domain":[0,0.339],"range":[621,21],"nice":false,"zero":false},"axis":{"orient":"left","offset":-89.4,"title":null,"values":[0,0.05,0.1,0.15,0.2,0.25,0.3],"labelFontSize":31,"labelPadding":12}}},
"layer":[
{"data":{"name":"frames"},"transform":[{"filter":"datum.p==1"}],"mark":{"type":"rect","color":"#0072BD"},"encoding":{"x2":{"field":"t1"},"y2":{"datum":0.339}}},
{"data":{"name":"haze"},"transform":[{"filter":"datum.p==1"}],"mark":{"type":"area","color":{"gradient":"linear","x1":0,"y1":1,"x2":0,"y2":0,"stops":[{"offset":0,"color":"rgba(90,176,240,0)"},{"offset":1,"color":"rgba(90,176,240,0.12)"}]}},"encoding":{"y2":{"datum":0.339}}},
{"data":{"name":"f1"},"mark":{"type":"rect","opacity":0.28,"color":{"gradient":"linear","x1":0,"y1":1,"x2":0,"y2":0,"stops":[{"offset":0,"color":"rgba(142,200,245,0)"},{"offset":0.2,"color":"rgba(142,200,245,1)"},{"offset":1,"color":"rgba(142,200,245,1)"}]}},"encoding":{"x2":{"field":"t1"},"y2":{"datum":0.339}}},
{"data":{"name":"s1"},"mark":{"type":"rect","color":{"gradient":"linear","x1":0,"y1":1,"x2":0,"y2":0,"stops":[{"offset":0,"color":"rgba(142,200,245,0)"},{"offset":0.12,"color":"rgba(142,200,245,1)"},{"offset":1,"color":"rgba(142,200,245,1)"}]}},"encoding":{"x2":{"field":"t1"},"y2":{"datum":0.339},"opacity":{"field":"s","type":"quantitative","legend":null,"scale":{"domain":[0,1],"range":[0,0.7]}}}},
{"data":{"name":"markers"},"transform":[{"filter":"datum.p==1"}],"mark":{"type":"rule","color":"#7ab8e0","strokeWidth":3},"encoding":{"y2":{"datum":0.339}}},
{"data":{"name":"markers"},"transform":[{"filter":"datum.p==1"}],"mark":{"type":"point","stroke":"#d8f030","strokeWidth":6,"filled":false,"size":530,"opacity":1}}
]},
{"encoding":{"x":{"field":"t0","type":"quantitative","scale":{"domain":[25.2,437.6],"range":[1298.4,2364.4],"nice":false,"zero":false},"axis":{"orient":"bottom","offset":-901.3,"title":"time (s)","values":[50,100,150,200,250,300,350,400],"labelFontSize":31,"titleFontSize":32,"labelPadding":16,"titlePadding":12,"domain":true,"domainColor":"#7fd4f7","domainWidth":3}},"y":{"field":"amp","type":"quantitative","scale":{"domain":[0.0273,0.4533],"range":[610.7,25.3],"nice":false,"zero":false},"axis":{"orient":"left","offset":-1298.4,"title":null,"values":[0.05,0.1,0.15,0.2,0.25,0.3,0.35,0.4,0.45],"labelFontSize":31,"labelPadding":14}}},
"layer":[
{"data":{"name":"frames"},"transform":[{"filter":"datum.p==2"}],"mark":{"type":"rect","color":"#0072BD"},"encoding":{"x2":{"field":"t1"},"y2":{"datum":0.4533}}},
{"data":{"name":"haze"},"transform":[{"filter":"datum.p==2"}],"mark":{"type":"area","color":{"gradient":"linear","x1":0,"y1":1,"x2":0,"y2":0,"stops":[{"offset":0,"color":"rgba(90,176,240,0)"},{"offset":1,"color":"rgba(90,176,240,0.2)"}]}},"encoding":{"y2":{"datum":0.4533}}},
{"data":{"name":"f2"},"mark":{"type":"rect","opacity":0.32,"color":{"gradient":"linear","x1":0,"y1":1,"x2":0,"y2":0,"stops":[{"offset":0,"color":"rgba(142,200,245,0)"},{"offset":0.2,"color":"rgba(142,200,245,1)"},{"offset":1,"color":"rgba(142,200,245,1)"}]}},"encoding":{"x2":{"field":"t1"},"y2":{"datum":0.4533}}},
{"data":{"name":"s2"},"mark":{"type":"rect","color":{"gradient":"linear","x1":0,"y1":1,"x2":0,"y2":0,"stops":[{"offset":0,"color":"rgba(142,200,245,0)"},{"offset":0.12,"color":"rgba(142,200,245,1)"},{"offset":1,"color":"rgba(142,200,245,1)"}]}},"encoding":{"x2":{"field":"t1"},"y2":{"datum":0.4533},"opacity":{"field":"s","type":"quantitative","legend":null,"scale":{"domain":[0,1],"range":[0,0.7]}}}},
{"data":{"name":"markers"},"transform":[{"filter":"datum.p==2"}],"mark":{"type":"rule","color":"#8ac0e0","strokeWidth":3},"encoding":{"y2":{"datum":0.4533}}},
{"data":{"name":"markers"},"transform":[{"filter":"datum.p==2"}],"mark":{"type":"point","stroke":"#d8f030","strokeWidth":6,"filled":false,"size":530,"opacity":1}}
]},
{"encoding":{"x":{"field":"t0","type":"quantitative","scale":{"domain":[0,570],"range":[2439.4,3498],"nice":false,"zero":false},"axis":{"orient":"bottom","offset":-891.3,"title":"time (s)","values":[0,100,200,300,400,500],"labelFontSize":31,"titleFontSize":32,"labelPadding":16,"titlePadding":8,"domain":true,"domainColor":"#7fd4f7","domainWidth":3}},"y":{"field":"amp","type":"quantitative","scale":{"domain":[0,0.285],"range":[620.7,28.5],"nice":false,"zero":false},"axis":{"orient":"left","offset":-2439.4,"title":null,"values":[0,0.05,0.1,0.15,0.2,0.25],"labelFontSize":31,"labelPadding":14}}},
"layer":[
{"data":{"name":"frames"},"transform":[{"filter":"datum.p==3"}],"mark":{"type":"rect","color":"#0072BD"},"encoding":{"x2":{"field":"t1"},"y2":{"datum":0.285}}},
{"data":{"name":"haze"},"transform":[{"filter":"datum.p==3"}],"mark":{"type":"area","color":{"gradient":"linear","x1":0,"y1":1,"x2":0,"y2":0,"stops":[{"offset":0,"color":"rgba(90,176,240,0)"},{"offset":1,"color":"rgba(90,176,240,0.18)"}]}},"encoding":{"y2":{"datum":0.285}}},
{"data":{"name":"f3"},"mark":{"type":"rect","opacity":0.34,"color":{"gradient":"linear","x1":0,"y1":1,"x2":0,"y2":0,"stops":[{"offset":0,"color":"rgba(142,200,245,0)"},{"offset":0.2,"color":"rgba(142,200,245,1)"},{"offset":1,"color":"rgba(142,200,245,1)"}]}},"encoding":{"x2":{"field":"t1"},"y2":{"datum":0.285}}},
{"data":{"name":"s3"},"mark":{"type":"rect","color":{"gradient":"linear","x1":0,"y1":1,"x2":0,"y2":0,"stops":[{"offset":0,"color":"rgba(142,200,245,0)"},{"offset":0.12,"color":"rgba(142,200,245,1)"},{"offset":1,"color":"rgba(142,200,245,1)"}]}},"encoding":{"x2":{"field":"t1"},"y2":{"datum":0.285},"opacity":{"field":"s","type":"quantitative","legend":null,"scale":{"domain":[0,1],"range":[0,0.7]}}}},
{"data":{"name":"markers"},"transform":[{"filter":"datum.p==3"}],"mark":{"type":"rule","color":"#d5ecf7","strokeWidth":3},"encoding":{"y2":{"datum":0.285}}},
{"data":{"name":"markers"},"transform":[{"filter":"datum.p==3"}],"mark":{"type":"point","stroke":"#d8f030","strokeWidth":6,"filled":false,"size":530,"opacity":1}}
]},
{"encoding":{"x":{"field":"t0","type":"quantitative","scale":{"domain":[797.4,1364.4],"range":[148.7,1200.5],"nice":false,"zero":false},"axis":{"orient":"bottom","offset":-122.2,"title":"time (s)","values":[800,900,1000,1100,1200,1300],"labelFontSize":31,"titleFontSize":32,"labelPadding":18,"titlePadding":10,"domain":true,"domainColor":"#7fd4f7","domainWidth":3}},"y":{"field":"amp","type":"quantitative","scale":{"domain":[0,0.0954],"range":[1389.8,708.3],"nice":false,"zero":false},"axis":{"orient":"left","offset":-148.7,"title":null,"values":[0,0.01,0.02,0.03,0.04,0.05,0.06,0.07,0.08,0.09],"labelFontSize":31,"labelPadding":14}}},
"layer":[
{"data":{"name":"frames"},"transform":[{"filter":"datum.p==4"}],"mark":{"type":"rect","color":"#0072BD"},"encoding":{"x2":{"field":"t1"},"y2":{"datum":0.0954}}},
{"data":{"name":"haze"},"transform":[{"filter":"datum.p==4"}],"mark":{"type":"area","color":{"gradient":"linear","x1":0,"y1":1,"x2":0,"y2":0,"stops":[{"offset":0,"color":"rgba(90,176,240,0)"},{"offset":1,"color":"rgba(90,176,240,0.1)"}]}},"encoding":{"y2":{"datum":0.0954}}},
{"data":{"name":"f4"},"mark":{"type":"rect","opacity":0.14,"color":{"gradient":"linear","x1":0,"y1":1,"x2":0,"y2":0,"stops":[{"offset":0,"color":"rgba(142,200,245,0)"},{"offset":0.4,"color":"rgba(142,200,245,1)"},{"offset":1,"color":"rgba(142,200,245,1)"}]}},"encoding":{"x2":{"field":"t1"},"y2":{"datum":0.0954}}},
{"data":{"name":"s4"},"mark":{"type":"rect","color":{"gradient":"linear","x1":0,"y1":1,"x2":0,"y2":0,"stops":[{"offset":0,"color":"rgba(142,200,245,0)"},{"offset":0.3,"color":"rgba(142,200,245,1)"},{"offset":1,"color":"rgba(142,200,245,1)"}]}},"encoding":{"x2":{"field":"t1"},"y2":{"datum":0.0954},"opacity":{"field":"s","type":"quantitative","legend":null,"scale":{"domain":[0,1],"range":[0,0.7]}}}},
{"data":{"name":"markers"},"transform":[{"filter":"datum.p==4"}],"mark":{"type":"rule","color":"#a0d0e8","strokeWidth":3},"encoding":{"y2":{"datum":0.0954}}},
{"data":{"name":"markers"},"transform":[{"filter":"datum.p==4"}],"mark":{"type":"point","stroke":"#d8f030","strokeWidth":6,"filled":false,"size":400,"opacity":1}}
]},
{"encoding":{"x":{"field":"t0","type":"quantitative","scale":{"domain":[407,1058],"range":[1290.3,2348],"nice":false,"zero":false},"axis":{"orient":"bottom","offset":-115.5,"title":"time (s)","values":[500,600,700,800,900,1000],"labelFontSize":32,"titleFontSize":32,"labelPadding":18,"titlePadding":8,"domain":true,"domainColor":"#7fd4f7","domainWidth":3}},"y":{"field":"amp","type":"quantitative","scale":{"domain":[0,0.0878],"range":[1396.5,719.7],"nice":false,"zero":false},"axis":{"orient":"left","offset":-1290.3,"title":null,"values":[0,0.01,0.02,0.03,0.04,0.05,0.06,0.07,0.08],"labelFontSize":31,"labelPadding":14}}},
"layer":[
{"data":{"name":"frames"},"transform":[{"filter":"datum.p==5"}],"mark":{"type":"rect","color":"#0072BD"},"encoding":{"x2":{"field":"t1"},"y2":{"datum":0.0878}}},
{"data":{"name":"haze"},"transform":[{"filter":"datum.p==5"}],"mark":{"type":"area","color":{"gradient":"linear","x1":0,"y1":1,"x2":0,"y2":0,"stops":[{"offset":0,"color":"rgba(90,176,240,0)"},{"offset":1,"color":"rgba(90,176,240,0.14)"}]}},"encoding":{"y2":{"datum":0.0878}}},
{"data":{"name":"f5"},"mark":{"type":"rect","opacity":0.25,"color":{"gradient":"linear","x1":0,"y1":1,"x2":0,"y2":0,"stops":[{"offset":0,"color":"rgba(142,200,245,0)"},{"offset":0.25,"color":"rgba(142,200,245,1)"},{"offset":1,"color":"rgba(142,200,245,1)"}]}},"encoding":{"x2":{"field":"t1"},"y2":{"datum":0.0878}}},
{"data":{"name":"s5"},"mark":{"type":"rect","color":{"gradient":"linear","x1":0,"y1":1,"x2":0,"y2":0,"stops":[{"offset":0,"color":"rgba(142,200,245,0)"},{"offset":0.15,"color":"rgba(142,200,245,1)"},{"offset":1,"color":"rgba(142,200,245,1)"}]}},"encoding":{"x2":{"field":"t1"},"y2":{"datum":0.0878},"opacity":{"field":"s","type":"quantitative","legend":null,"scale":{"domain":[0,1],"range":[0,0.7]}}}},
{"data":{"name":"markers"},"transform":[{"filter":"datum.p==5"}],"mark":{"type":"rule","color":"#b0d8f0","strokeWidth":3},"encoding":{"y2":{"datum":0.0878}}},
{"data":{"name":"red"},"transform":[{"filter":"datum.p==5"}],"mark":{"type":"point","stroke":"#7d5f9c","strokeWidth":5,"filled":false,"size":270,"opacity":0.8}},
{"data":{"name":"markers"},"transform":[{"filter":"datum.p==5"}],"mark":{"type":"point","stroke":"#d8f030","strokeWidth":6,"filled":false,"size":380,"opacity":1}}
]},
{"encoding":{"x":{"field":"t0","type":"quantitative","scale":{"domain":[433,1050.5],"range":[2415.1,3438.6],"nice":false,"zero":false},"axis":{"orient":"bottom","offset":-94.2,"title":"time (s)","values":[500,600,700,800,900,1000],"labelFontSize":26,"titleFontSize":27,"labelPadding":16,"titlePadding":8,"domain":true,"domainColor":"#7fd4f7","domainWidth":3}},"y":{"field":"amp","type":"quantitative","scale":{"domain":[0,0.406],"range":[1417.8,708.3],"nice":false,"zero":false},"axis":{"orient":"left","offset":-2415.1,"title":null,"values":[0,0.05,0.1,0.15,0.2,0.25,0.3,0.35,0.4],"labelFontSize":26,"labelPadding":12}}},
"layer":[
{"data":{"name":"frames"},"transform":[{"filter":"datum.p==6"}],"mark":{"type":"rect","color":"#0072BD"},"encoding":{"x2":{"field":"t1"},"y2":{"datum":0.406}}},
{"data":{"name":"haze"},"transform":[{"filter":"datum.p==6"}],"mark":{"type":"area","color":{"gradient":"linear","x1":0,"y1":1,"x2":0,"y2":0,"stops":[{"offset":0,"color":"rgba(90,176,240,0)"},{"offset":1,"color":"rgba(90,176,240,0.1)"}]}},"encoding":{"y2":{"datum":0.406}}},
{"data":{"name":"f6"},"mark":{"type":"rect","opacity":0.18,"color":{"gradient":"linear","x1":0,"y1":1,"x2":0,"y2":0,"stops":[{"offset":0,"color":"rgba(142,200,245,0)"},{"offset":0.25,"color":"rgba(142,200,245,1)"},{"offset":1,"color":"rgba(142,200,245,1)"}]}},"encoding":{"x2":{"field":"t1"},"y2":{"datum":0.406}}},
{"data":{"name":"s6"},"mark":{"type":"rect","color":{"gradient":"linear","x1":0,"y1":1,"x2":0,"y2":0,"stops":[{"offset":0,"color":"rgba(142,200,245,0)"},{"offset":0.15,"color":"rgba(142,200,245,1)"},{"offset":1,"color":"rgba(142,200,245,1)"}]}},"encoding":{"x2":{"field":"t1"},"y2":{"datum":0.406},"opacity":{"field":"s","type":"quantitative","legend":null,"scale":{"domain":[0,1],"range":[0,0.7]}}}},
{"data":{"name":"red"},"transform":[{"filter":"datum.p==6"}],"mark":{"type":"rule","color":"#5aa0d8","strokeWidth":3},"encoding":{"y2":{"datum":0.406}}},
{"data":{"name":"markers"},"transform":[{"filter":"datum.p==6"}],"mark":{"type":"rule","color":"#c8f0d8","strokeWidth":3},"encoding":{"y2":{"datum":0.406}}},
{"data":{"name":"red"},"transform":[{"filter":"datum.p==6"}],"mark":{"type":"point","stroke":"#8a6a9a","strokeWidth":4,"filled":false,"size":150,"opacity":0.7}},
{"data":{"name":"markers"},"transform":[{"filter":"datum.p==6"}],"mark":{"type":"point","stroke":"#d8f030","strokeWidth":6,"filled":false,"size":200,"opacity":1}}
]}
]}
